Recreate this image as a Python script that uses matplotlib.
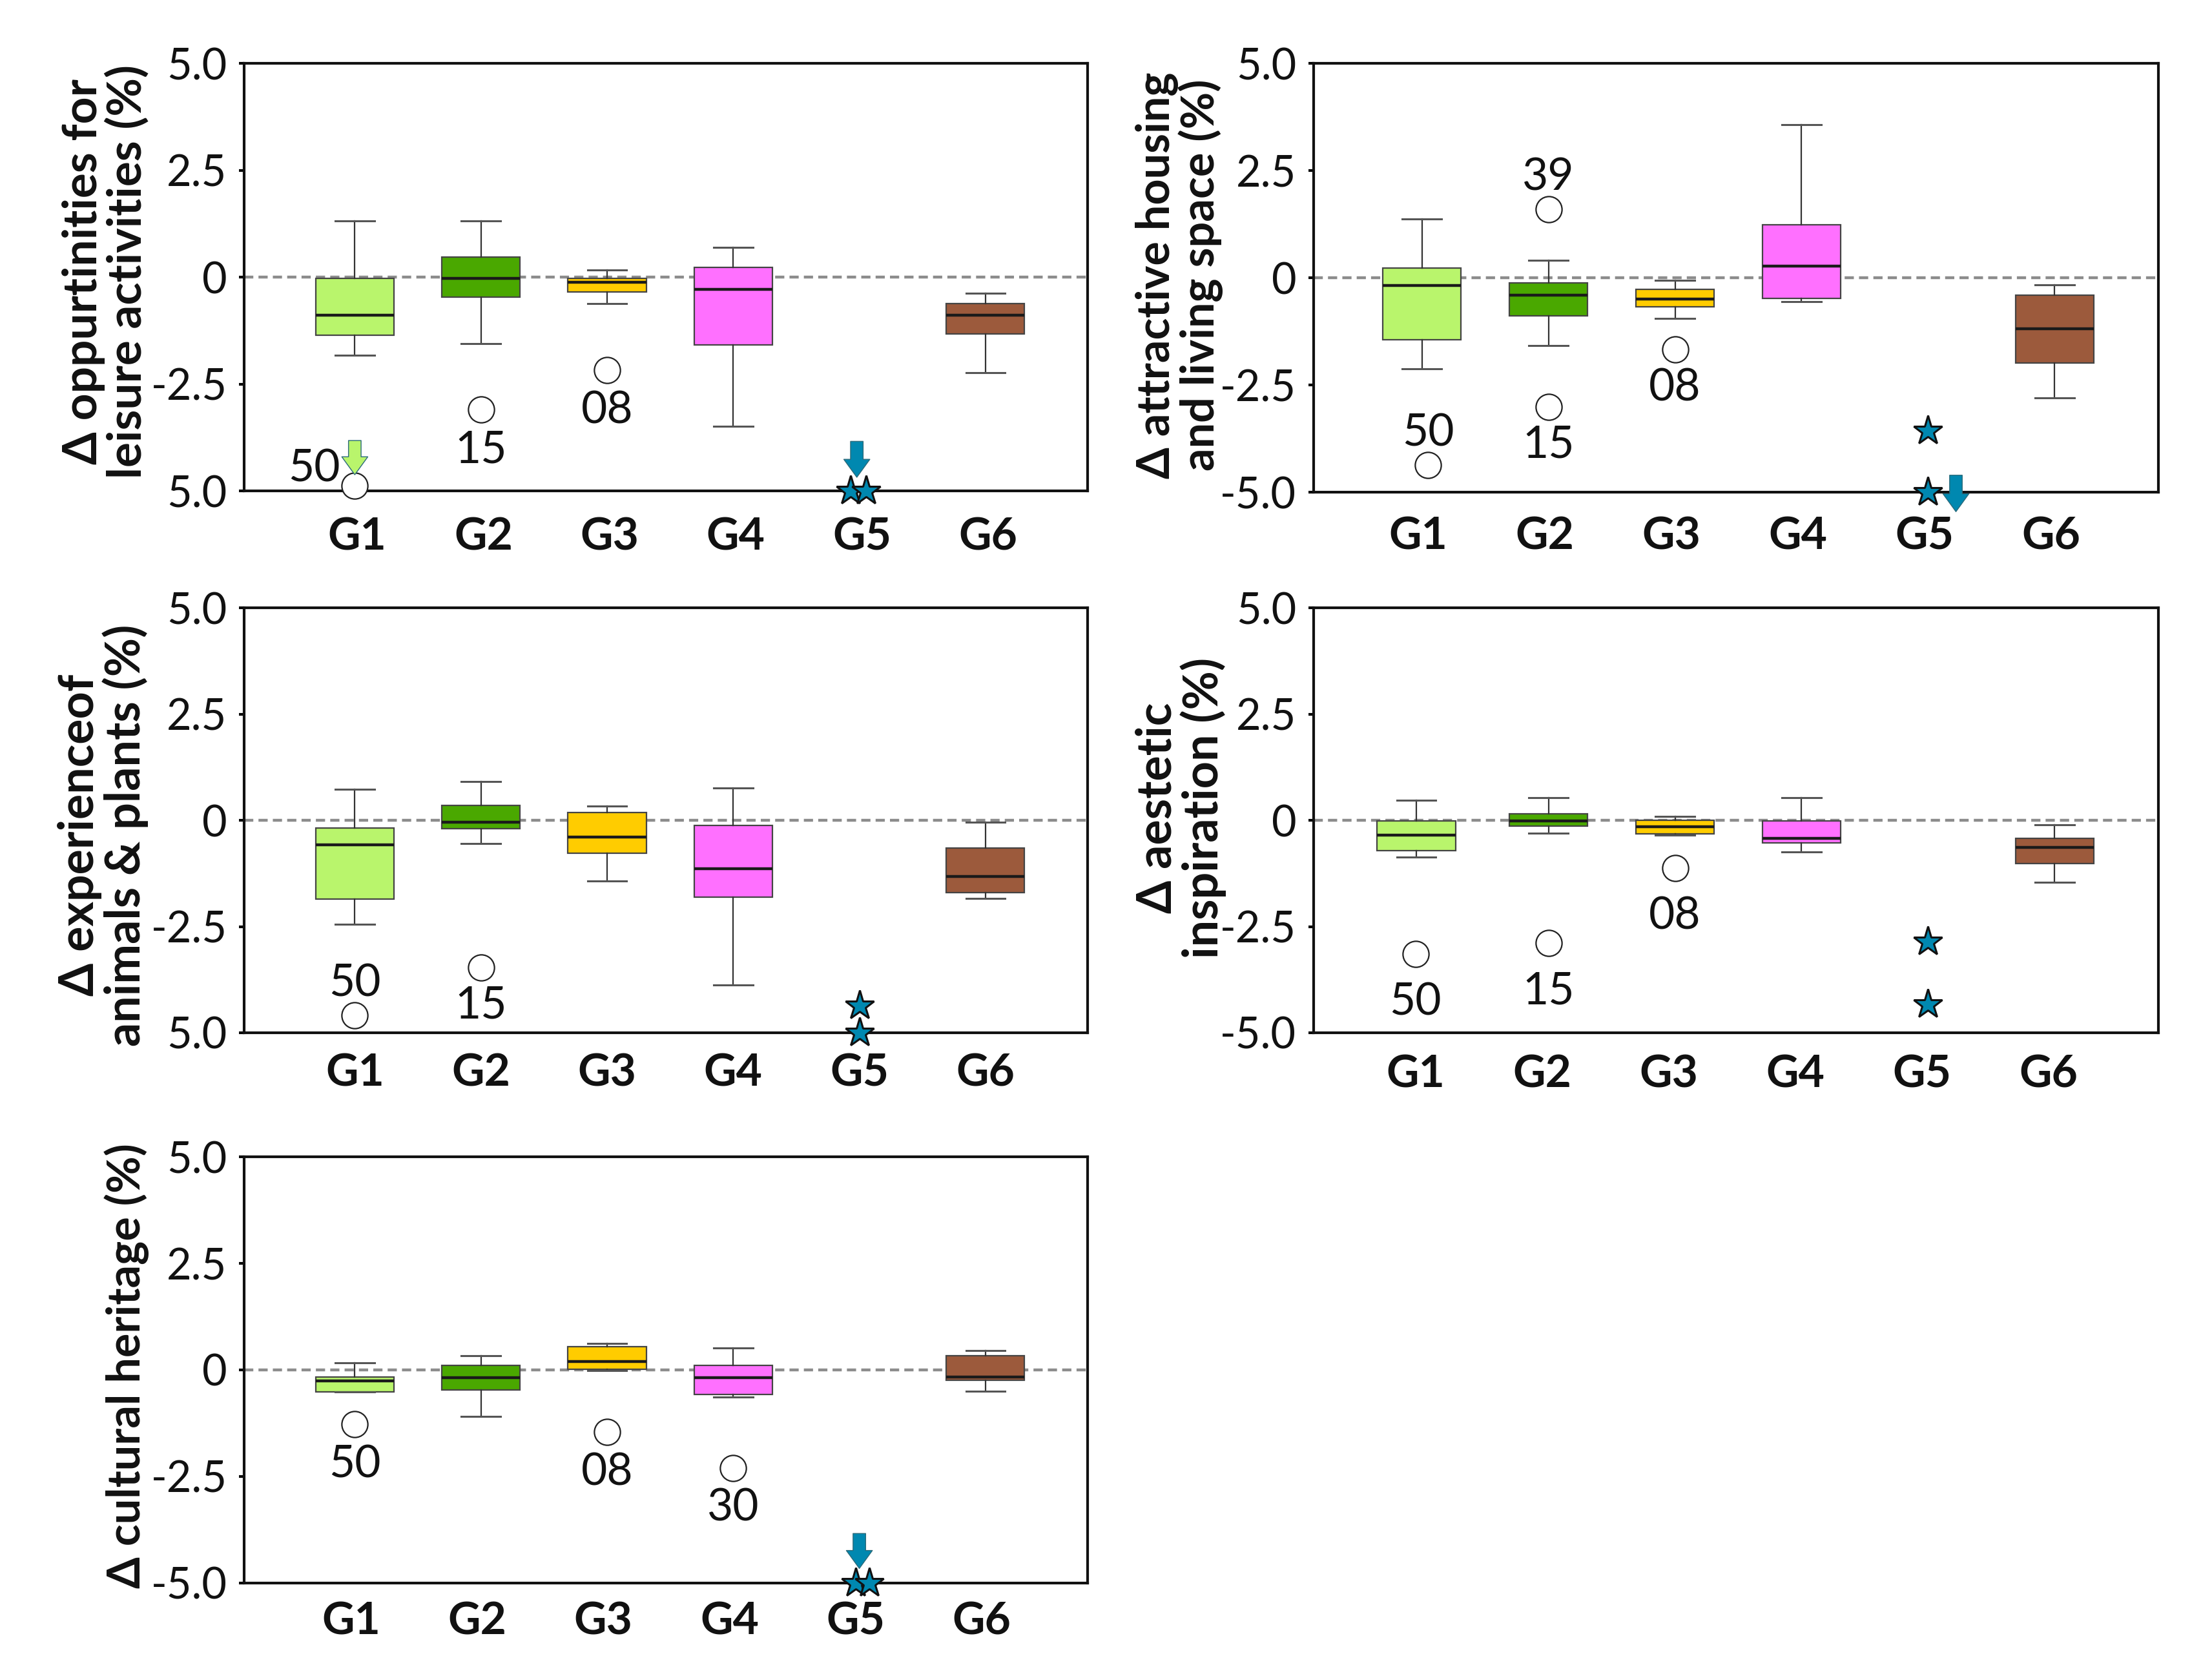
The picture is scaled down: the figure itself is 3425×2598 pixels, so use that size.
import matplotlib
matplotlib.use("Agg")
import matplotlib.pyplot as plt

plt.rcParams['font.family'] = ['Lato', 'DejaVu Sans']

WIDTH, HEIGHT = 3425, 2598
DISP = WIDTH / 1568.0  # layout was measured on a downscaled view

groups = ["G1", "G2", "G3", "G4", "G5", "G6"]
box_groups = [1, 2, 3, 4, 6]  # G5 only has extremes
colors = ["#b9f56c", "#4aa800", "#ffcc00", "#ff70ff", "#9c5a3c"]
STAR = "#0088b0"

# panel 1
p1_ylabel = "Δ oppurtinities for\nleisure activities (%)"
p1_yticks = ["5.0", "2.5", "0", "-2.5", "5.0"]
p1_hi = [1.32, 1.32, 0.17, 0.70, -0.38]
p1_q3 = [-0.03, 0.47, -0.03, 0.23, -0.61]
p1_med = [-0.89, -0.03, -0.12, -0.28, -0.89]
p1_q1 = [-1.36, -0.46, -0.34, -1.58, -1.33]
p1_lo = [-1.82, -1.56, -0.62, -3.48, -2.23]
p1_out_x = [1.0, 2.0, 3.0]
p1_out_y = [-4.88, -3.10, -2.18]
p1_out_lab = ["50", "15", "08"]
p1_star_x = [4.93, 5.055]
p1_star_y = [-5.0, -5.0]
p1_arrows = [(1.0, -3.82, -4.62, "#b9f56c"), (4.98, -3.84, -4.68, STAR)]

# panel 2
p2_ylabel = "Δ attractive housing\nand living space (%)"
p2_yticks = ["5.0", "2.5", "0", "-2.5", "-5.0"]
p2_hi = [1.37, 0.41, -0.05, 3.57, -0.16]
p2_q3 = [0.23, -0.12, -0.26, 1.24, -0.40]
p2_med = [-0.17, -0.40, -0.49, 0.28, -1.18]
p2_q1 = [-1.44, -0.89, -0.67, -0.47, -1.99]
p2_lo = [-2.12, -1.57, -0.94, -0.56, -2.79]
p2_out_x = [1.05, 2.0, 2.0, 3.0]
p2_out_y = [-4.37, 1.60, -3.00, -1.67]
p2_out_lab = ["50", "39", "15", "08"]
p2_star_x = [5.0, 5.0]
p2_star_y = [-3.57, -5.0]
p2_arrows = [(5.22, -4.60, -5.45, STAR)]

# panel 3
p3_ylabel = "Δ experienceof\nanimals & plants (%)"
p3_yticks = ["5.0", "2.5", "0", "-2.5", "5.0"]
p3_hi = [0.74, 0.91, 0.34, 0.76, -0.05]
p3_q3 = [-0.18, 0.36, 0.18, -0.12, -0.65]
p3_med = [-0.57, -0.05, -0.40, -1.14, -1.32]
p3_q1 = [-1.86, -0.19, -0.78, -1.80, -1.70]
p3_lo = [-2.44, -0.54, -1.42, -3.88, -1.84]
p3_out_x = [1.0, 2.0]
p3_out_y = [-4.59, -3.47]
p3_out_lab = ["50", "15"]
p3_star_x = [5.0, 5.0]
p3_star_y = [-4.37, -5.0]
p3_arrows = []

# panel 4
p4_ylabel = "Δ aestetic\ninspiration (%)"
p4_yticks = ["5.0", "2.5", "0", "-2.5", "-5.0"]
p4_hi = [0.48, 0.53, 0.10, 0.53, -0.10]
p4_q3 = [-0.02, 0.15, 0.0, -0.02, -0.42]
p4_med = [-0.35, -0.01, -0.15, -0.42, -0.64]
p4_q1 = [-0.71, -0.13, -0.31, -0.53, -1.01]
p4_lo = [-0.87, -0.30, -0.34, -0.75, -1.46]
p4_out_x = [0.95, 2.0, 3.0]
p4_out_y = [-3.15, -2.89, -1.12]
p4_out_lab = ["50", "15", "08"]
p4_star_x = [5.0, 5.0]
p4_star_y = [-2.85, -4.33]
p4_arrows = []

# panel 5
p5_ylabel = "Δ cultural heritage (%)"
p5_yticks = ["5.0", "2.5", "0", "-2.5", "-5.0"]
p5_hi = [0.17, 0.33, 0.62, 0.51, 0.45]
p5_q3 = [-0.16, 0.11, 0.55, 0.11, 0.34]
p5_med = [-0.26, -0.18, 0.20, -0.18, -0.17]
p5_q1 = [-0.52, -0.47, 0.02, -0.57, -0.25]
p5_lo = [-0.52, -1.09, -0.02, -0.64, -0.50]
p5_out_x = [1.0, 3.0, 4.0]
p5_out_y = [-1.28, -1.46, -2.30]
p5_out_lab = ["50", "08", "30"]
p5_star_x = [4.97, 5.08]
p5_star_y = [-5.0, -5.0]
p5_arrows = [(5.0, -3.84, -4.66, STAR)]


def make_panel(box_px, xlim, tick_shift, g1_pos, ylabel, label_xy, label_size, xpad, label_gap, yticks,
               hi, q3, med, q1, lo, out_x, out_y, out_lab, out_side, star_x, star_y, arrows):
    left, top, right, bottom = [v * DISP for v in box_px]
    ax = fig.add_axes([left / WIDTH, 1 - bottom / HEIGHT, (right - left) / WIDTH, (bottom - top) / HEIGHT])

    stats = [dict(whislo=lo[i], q1=q1[i], med=med[i], q3=q3[i], whishi=hi[i], fliers=[]) for i in range(5)]
    positions = list(box_groups)
    positions[0] = g1_pos
    parts = ax.bxp(stats, positions=positions, widths=0.62, capwidths=0.31, patch_artist=True,
                   medianprops=dict(color="#1a1a1a", linewidth=3.2),
                   whiskerprops=dict(color="#333333", linewidth=1.6),
                   capprops=dict(color="#555555", linewidth=2.2),
                   boxprops=dict(edgecolor="#444444", linewidth=1.6),
                   manage_ticks=False, zorder=3)
    for patch, c in zip(parts["boxes"], colors):
        patch.set_facecolor(c)

    ax.axhline(0, color="#8c8c8c", linestyle=(0, (3.2, 1.8)), linewidth=3.2, zorder=2)

    ax.plot(out_x, out_y, "o", ms=29, mfc="white", mec="#222222", mew=1.6, zorder=5, clip_on=False)
    for x, y, lab, side in zip(out_x, out_y, out_lab, out_side):
        if side == "left":
            ax.text(x - 0.32, y + 0.4, lab, ha="center", va="center", fontsize=50, color="#111111")
        else:
            ax.text(x, y + side * label_gap - 0.08, lab, ha="center", va="center", fontsize=50, color="#111111")

    ax.plot(star_x, star_y, "*", ms=34, mfc=STAR, mec="#111111", mew=2.2, zorder=6, clip_on=False)
    for x, y0, y1, c in arrows:
        ax.annotate("", xy=(x, y1), xytext=(x, y0), zorder=7, annotation_clip=False,
                    arrowprops=dict(width=14, headwidth=29, headlength=20, shrink=0,
                                    facecolor=c, edgecolor="#2a6a7a", linewidth=1))

    ax.set_xlim(*xlim)
    ax.set_ylim(-5, 5)
    ax.set_yticks([5, 2.5, 0, -2.5, -5], yticks)
    ax.set_xticks([g + tick_shift for g in range(1, 7)], groups, fontweight="bold")
    ax.tick_params(axis="y", labelsize=48, length=6, width=3, pad=13, labelcolor="#111111")
    ax.tick_params(axis="x", labelsize=50, length=0, pad=xpad, labelcolor="#111111")
    for side in ax.spines.values():
        side.set_linewidth(3)
        side.set_color("#111111")

    fig.text(label_xy[0] * DISP / WIDTH, 1 - label_xy[1] * DISP / HEIGHT, ylabel, rotation=90,
             ha="center", va="center", ma="center", fontsize=label_size, fontweight="bold",
             color="#111111", linespacing=1.0)


fig = plt.figure(figsize=(WIDTH / 100, HEIGHT / 100), dpi=100)

make_panel((173, 45, 771, 348), (0.122, 6.81), 0.02, 1, p1_ylabel, (75, 192.5), 52.5, 29, 0.87, p1_yticks,
           p1_hi, p1_q3, p1_med, p1_q1, p1_lo,
           p1_out_x, p1_out_y, p1_out_lab, ["left", -1, -1], p1_star_x, p1_star_y, p1_arrows)
make_panel((931, 45, 1530, 349), (0.142, 6.82), -0.03, 1, p2_ylabel, (836, 195), 50.5, 27, 0.82, p2_yticks,
           p2_hi, p2_q3, p2_med, p2_q1, p2_lo,
           p2_out_x, p2_out_y, p2_out_lab, [1, 1, -1, -1], p2_star_x, p2_star_y, p2_arrows)
make_panel((173, 431, 771, 732), (0.122, 6.81), 0.0, 1, p3_ylabel, (73, 592), 53, 23, 0.82, p3_yticks,
           p3_hi, p3_q3, p3_med, p3_q1, p3_lo,
           p3_out_x, p3_out_y, p3_out_lab, [1, -1], p3_star_x, p3_star_y, p3_arrows)
make_panel((931, 431, 1530, 732), (0.142, 6.82), -0.05, 0.955, p4_ylabel, (837, 572.5), 53, 24, 1.06, p4_yticks,
           p4_hi, p4_q3, p4_med, p4_q1, p4_lo,
           p4_out_x, p4_out_y, p4_out_lab, [-1, -1, -1], p4_star_x, p4_star_y, p4_arrows)
make_panel((173, 820, 771, 1122), (0.122, 6.81), -0.03, 1, p5_ylabel, (90, 968), 50.5, 21, 0.87, p5_yticks,
           p5_hi, p5_q3, p5_med, p5_q1, p5_lo,
           p5_out_x, p5_out_y, p5_out_lab, [-1, -1, -1], p5_star_x, p5_star_y, p5_arrows)

fig.savefig("out.png", dpi=100, facecolor="white")
